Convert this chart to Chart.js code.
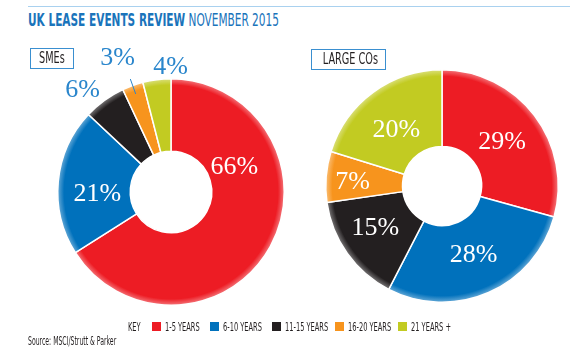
<!DOCTYPE html>
<html>
<head>
<meta charset="utf-8">
<script src="https://cdn.jsdelivr.net/npm/chart.js@4.4.1/dist/chart.umd.min.js"></script>
<style>
  html, body { margin: 0; padding: 0; background: #fff; }
  body {
    width: 570px; height: 359px; position: relative; overflow: hidden;
    font-family: "Liberation Sans Narrow", "DejaVu Sans Condensed", "Liberation Sans", sans-serif;
  }
  .rule { position: absolute; left: 28px; top: 6px; width: 542px; height: 1px; background: #a9d1ef; }
  .title {
    position: absolute; left: 28px; top: 10px; font-size: 17px; color: #1a74bb;
    white-space: nowrap; transform: scaleX(0.69); transform-origin: left top;
  }
  .title b { font-weight: bold; }
  .tag {
    position: absolute; box-sizing: border-box; border: 1.5px solid #3a8fd0;
    height: 21px; font-size: 15px; line-height: 18px; color: #231f20; text-align: center;
    white-space: nowrap; overflow: hidden;
  }
  .tag span { display: inline-block; transform: scaleX(0.72); transform-origin: center; }
  canvas { position: absolute; }
  .key, .item-text, .source {
    position: absolute; white-space: nowrap; color: #231f20;
    transform: scaleX(0.57); transform-origin: left top;
  }
  .key, .item-text { top: 319px; font-size: 13px; }
  .swatch { position: absolute; top: 322px; width: 9px; height: 9px; }
  .source { left: 28px; top: 334px; font-size: 12px; }
</style>
</head>
<body>
<div class="rule"></div>
<div class="title"><b>UK LEASE EVENTS REVIEW</b> NOVEMBER 2015</div>
<canvas id="sme-chart" width="300" height="300" style="left:21px; top:42px; width:300px; height:300px;"></canvas>
<canvas id="large-chart" width="300" height="300" style="left:292px; top:36px; width:300px; height:300px;"></canvas>
<div class="tag" style="left:30px; top:48px; width:44px;"><span>SMEs</span></div>
<div class="tag" style="left:311px; top:49px; width:75px;"><span>LARGE COs</span></div>
<div id="legend"></div>
<div class="source">Source: MSCI/Strutt &amp; Parker</div>

<script>
const categories = ["1-5 YEARS", "6-10 YEARS", "11-15 YEARS", "16-20 YEARS", "21 YEARS +"];
const smeValues = [66, 21, 6, 3, 4];
const largeValues = [29, 28, 15, 7, 20];
const sliceColors = ["#ed1c24", "#0071bc", "#231f20", "#f7941d", "#c2cb22"];

// label placement: angle shift from slice middle (deg), distance as share of outer radius
const smeLabelStyle = [
  { shift: -50, dist: 0.60, color: "#fff" },
  { shift: -7, dist: 0.65, color: "#fff" },
  { shift: -5, dist: 1.19, color: "#2a86cc" },
  { shift: -2, dist: 1.27, color: "#2a86cc", leader: true },
  { shift: 7, dist: 1.10, color: "#2a86cc" }
];
const largeLabelStyle = [
  { shift: 1, dist: 0.64, color: "#fff" },
  { shift: -1, dist: 0.65, color: "#fff" },
  { shift: 3, dist: 0.68, color: "#fff" },
  { shift: -2, dist: 0.77, color: "#fff" },
  { shift: -3, dist: 0.62, color: "#fff" }
];

const legendX = [152, 210, 272, 335, 398];

function mixWhite(hex, amount) {
  const n = parseInt(hex.slice(1), 16);
  const r = (n >> 16) & 255, g = (n >> 8) & 255, b = n & 255;
  const m = c => Math.round(c + (255 - c) * amount);
  return "rgb(" + m(r) + "," + m(g) + "," + m(b) + ")";
}

function shaded(context) {
  const chart = context.chart;
  const base = sliceColors[context.dataIndex];
  const area = chart.chartArea;
  if (!area) return base;
  const cx = (area.left + area.right) / 2;
  const cy = (area.top + area.bottom) / 2;
  const R = Math.min(area.right - area.left, area.bottom - area.top) / 2;
  const g = chart.ctx.createRadialGradient(cx, cy, 0, cx, cy, R + 1);
  g.addColorStop(0, base);
  g.addColorStop(0.93, base);
  g.addColorStop(1, mixWhite(base, 0.5));
  return g;
}

const labelPlugin = {
  id: "sliceLabels",
  afterDatasetsDraw(chart, args, opts) {
    const ctx = chart.ctx;
    const meta = chart.getDatasetMeta(0);
    const values = chart.data.datasets[0].data;
    ctx.save();
    ctx.font = "26px 'Liberation Serif', 'DejaVu Serif', serif";
    ctx.textAlign = "center";
    ctx.textBaseline = "middle";
    meta.data.forEach((arc, i) => {
      const st = opts.styles[i];
      const p = arc.getProps(["x", "y", "startAngle", "endAngle", "outerRadius"], true);
      const mid = (p.startAngle + p.endAngle) / 2;
      const a = mid + st.shift * Math.PI / 180;
      const lx = p.x + Math.cos(a) * p.outerRadius * st.dist;
      const ly = p.y + Math.sin(a) * p.outerRadius * st.dist;
      if (st.leader) {
        ctx.strokeStyle = "#2a86cc";
        ctx.lineWidth = 1;
        ctx.beginPath();
        ctx.moveTo(p.x + Math.cos(mid) * p.outerRadius * 0.92, p.y + Math.sin(mid) * p.outerRadius * 0.92);
        ctx.lineTo(p.x + Math.cos(mid) * p.outerRadius * 1.06, p.y + Math.sin(mid) * p.outerRadius * 1.06);
        ctx.stroke();
      }
      ctx.fillStyle = st.color;
      ctx.fillText(values[i] + "%", lx, ly);
    });
    ctx.restore();
  }
};

function buildDonut(canvasId, values, cutout, padding, styles) {
  return new Chart(document.getElementById(canvasId), {
    type: "doughnut",
    data: {
      labels: categories,
      datasets: [{
        data: values,
        backgroundColor: shaded,
        borderColor: "#fff",
        borderWidth: 1.5,
        hoverOffset: 0,
        offset: 0
      }]
    },
    options: {
      responsive: false,
      animation: false,
      events: [],
      cutout: cutout,
      layout: { padding: padding },
      plugins: {
        legend: { display: false },
        tooltip: { enabled: false },
        sliceLabels: { styles: styles }
      }
    },
    plugins: [labelPlugin]
  });
}

buildDonut("sme-chart", smeValues, "36%", 36, smeLabelStyle);
buildDonut("large-chart", largeValues, "34%", 33, largeLabelStyle);

// key along the bottom
const legend = document.getElementById("legend");
const key = document.createElement("div");
key.className = "key";
key.style.left = "128px";
key.textContent = "KEY";
legend.appendChild(key);
categories.forEach((name, i) => {
  const sw = document.createElement("div");
  sw.className = "swatch";
  sw.style.left = legendX[i] + "px";
  sw.style.background = sliceColors[i];
  legend.appendChild(sw);
  const tx = document.createElement("div");
  tx.className = "item-text";
  tx.style.left = (legendX[i] + 13) + "px";
  tx.textContent = name;
  legend.appendChild(tx);
});
</script>
</body>
</html>
